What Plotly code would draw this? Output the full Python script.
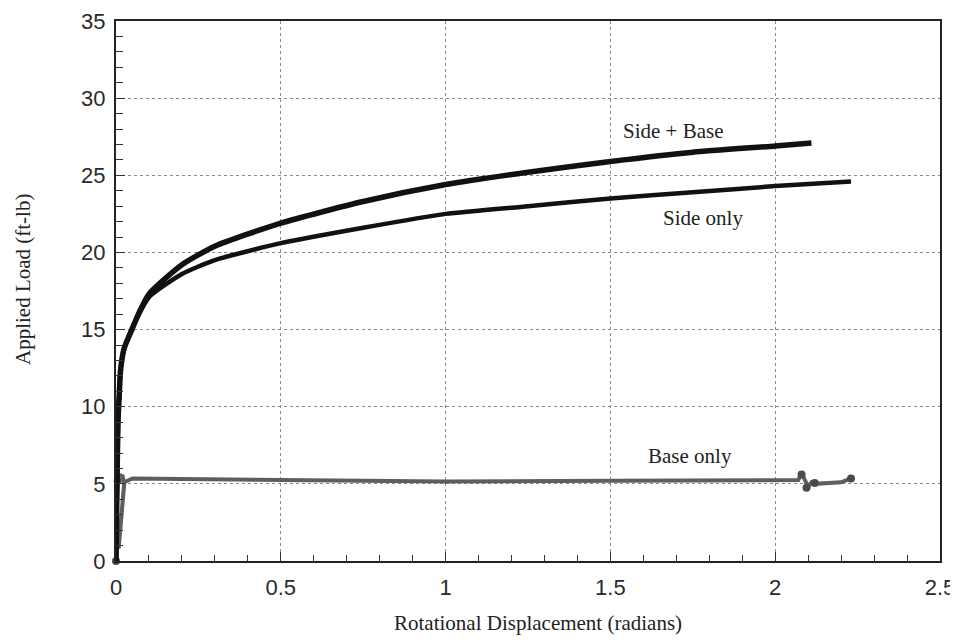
import plotly.graph_objects as go

# rotational displacement (radians) vs applied load (ft-lb)
disp_side_base = [0, 0.003, 0.006, 0.009, 0.014, 0.025, 0.048, 0.07, 0.1, 0.2, 0.3,
                  0.5, 0.75, 1.0, 1.25, 1.5, 1.75, 2.0, 2.11]
load_side_base = [0, 5.0, 9.0, 10.4, 12.4, 13.8, 15.0, 16.1, 17.3, 19.2, 20.4,
                  21.9, 23.3, 24.4, 25.2, 25.9, 26.5, 26.9, 27.1]

disp_side_only = [0, 0.003, 0.006, 0.009, 0.014, 0.025, 0.048, 0.07, 0.1, 0.2, 0.3,
                  0.5, 0.75, 1.0, 1.25, 1.5, 1.75, 2.0, 2.23]
load_side_only = [0, 5.0, 9.0, 10.4, 12.4, 13.8, 15.0, 16.0, 17.1, 18.6, 19.5,
                  20.6, 21.6, 22.5, 23.0, 23.5, 23.9, 24.3, 24.6]

disp_base_only = [0, 0.002, 0.004, 0.008, 0.02, 0.025, 0.015, 0.008, 0.012, 0.025,
                  0.05, 0.5, 1.0, 1.5, 2.0, 2.07, 2.08, 2.09, 2.1, 2.11, 2.12, 2.2, 2.23]
load_base_only = [0, 3.0, 5.2, 5.6, 5.5, 5.0, 2.5, 0.8, 2.5, 5.1,
                  5.35, 5.25, 5.15, 5.2, 5.2, 5.25, 5.7, 5.2, 4.8, 5.1, 5.0, 5.1, 5.35]

# blobs where the base-only record wobbles
disp_base_dots = [0, 0.005, 2.08, 2.095, 2.12, 2.23]
load_base_dots = [0, 5.2, 5.6, 4.75, 5.05, 5.35]

x_ticks = [0, 0.5, 1, 1.5, 2, 2.5]
x_tick_labels = ['0', '0.5', '1', '1.5', '2', '2.5']
y_ticks = [0, 5, 10, 15, 20, 25, 30, 35]

curve_labels = ['Side + Base', 'Side only', 'Base only']
label_x = [1.69, 1.78, 1.74]
label_y = [27.9, 22.2, 6.8]

fig = go.Figure()

# base only - grey, grainy line
fig.add_trace(go.Scatter(
    x=disp_base_only, y=load_base_only,
    mode='lines',
    line=dict(color='#5e5e5e', width=4),
    showlegend=False,
))
fig.add_trace(go.Scatter(
    x=disp_base_dots, y=load_base_dots,
    mode='markers',
    marker=dict(color='#4a4a4a', size=8),
    cliponaxis=False,
    showlegend=False,
))

# side only
fig.add_trace(go.Scatter(
    x=disp_side_only, y=load_side_only,
    mode='lines',
    line=dict(color='#111111', width=4.5, shape='spline', smoothing=0.6),
    showlegend=False,
))

# side + base
fig.add_trace(go.Scatter(
    x=disp_side_base, y=load_side_base,
    mode='lines',
    line=dict(color='#111111', width=5.5, shape='spline', smoothing=0.6),
    showlegend=False,
))

for txt, lx, ly in zip(curve_labels, label_x, label_y):
    fig.add_annotation(
        x=lx, y=ly, text=txt, showarrow=False,
        xanchor='center', yanchor='middle',
        font=dict(family='Liberation Serif', size=21, color='#222222'),
    )

# axis titles placed as in the scan (plot area is 824 x 540 px)
fig.add_annotation(
    x=(538 - 116) / 824, y=-(623 - 561) / 540,
    xref='paper', yref='paper', text='Rotational Displacement (radians)',
    xanchor='center', yanchor='middle',
    showarrow=False, font=dict(family='Liberation Serif', size=21, color='#222222'),
)
fig.add_annotation(
    x=-(116 - 23) / 824, y=(561 - 280) / 540,
    xref='paper', yref='paper', text='Applied Load (ft-lb)', textangle=-90,
    xanchor='center', yanchor='middle',
    showarrow=False, font=dict(family='Liberation Serif', size=21, color='#222222'),
)

axis_common = dict(
    showline=True, linecolor='#222222', linewidth=2, mirror=True,
    showgrid=True, gridcolor='#8a8a8a', gridwidth=1, griddash='dot',
    ticks='inside', tickcolor='#333333', tickwidth=1,
    zeroline=False, automargin=False, ticklabeloverflow='allow',
    tickfont=dict(family='Liberation Sans', size=22, color='#2a2a2a'),
)

fig.update_xaxes(
    range=[0, 2.5], tickvals=x_ticks, ticktext=x_tick_labels, ticklen=9,
    minor=dict(dtick=0.1, ticks='inside', ticklen=6, tickcolor='#333333', showgrid=False),
    ticklabelstandoff=6,
    **axis_common,
)
fig.update_yaxes(
    range=[0, 35], tickvals=y_ticks, ticklen=9,
    minor=dict(dtick=1, ticks='inside', ticklen=7, tickcolor='#333333', showgrid=False),
    ticklabelstandoff=4,
    **axis_common,
)

# page body adds an 8px margin, so the figure is sized to fit inside it
fig.update_layout(
    width=950, height=627,
    margin=dict(l=108, r=18, t=13, b=74),
    plot_bgcolor='white',
    paper_bgcolor='white',
)

fig.write_html('out.html')
